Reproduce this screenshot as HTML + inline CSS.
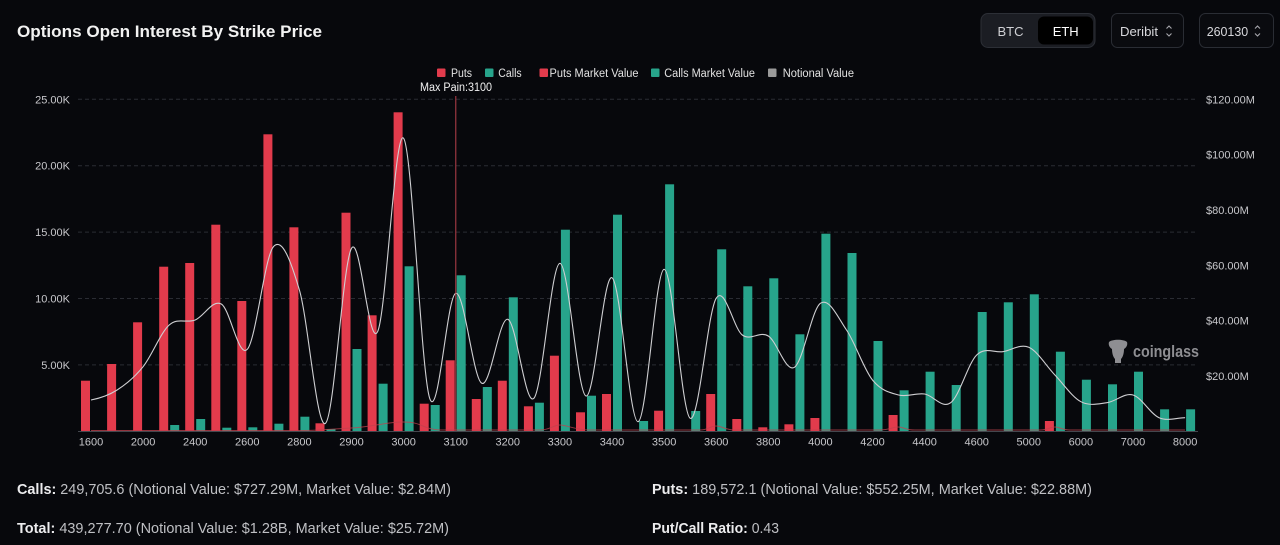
<!DOCTYPE html>
<html><head><meta charset="utf-8"><style>
html,body{margin:0;padding:0;background:#07080c;width:1280px;height:545px;overflow:hidden}
svg{display:block}
</style></head><body>
<svg width="1280" height="545" viewBox="0 0 1280 545" xmlns="http://www.w3.org/2000/svg" font-family="'Liberation Sans', sans-serif">
<rect width="1280" height="545" fill="#07080c"/>
<!-- Title -->
<text x="17" y="37" font-size="17" font-weight="bold" fill="#f2f2f2" textLength="305" lengthAdjust="spacingAndGlyphs">Options Open Interest By Strike Price</text>

<!-- Header controls -->
<rect x="981" y="13.5" width="114" height="34" rx="7" fill="#1b1d23" stroke="#2c2f36"/>
<rect x="1038" y="16.5" width="55" height="28" rx="6" fill="#000"/>
<text x="1010.5" y="36" font-size="13" fill="#cfd0d4" text-anchor="middle">BTC</text>
<text x="1065.7" y="36" font-size="13" fill="#ffffff" text-anchor="middle">ETH</text>
<rect x="1111.5" y="13.5" width="72" height="34" rx="6" fill="#0a0b0f" stroke="#2a2d34"/>
<text x="1120" y="36" font-size="13" fill="#d8d8dc" textLength="38" lengthAdjust="spacingAndGlyphs">Deribit</text>
<polyline points="1166.5,28.5 1169,26 1171.5,28.5" fill="none" stroke="#a8a8ae" stroke-width="1.1"/>
<polyline points="1166.5,33.5 1169,36 1171.5,33.5" fill="none" stroke="#a8a8ae" stroke-width="1.1"/>
<rect x="1199.5" y="13.5" width="74" height="34" rx="6" fill="#0a0b0f" stroke="#2a2d34"/>
<text x="1206.7" y="36" font-size="13" fill="#d8d8dc" textLength="41.5" lengthAdjust="spacingAndGlyphs">260130</text>
<polyline points="1255,28.5 1257.5,26 1260,28.5" fill="none" stroke="#a8a8ae" stroke-width="1.1"/>
<polyline points="1255,33.5 1257.5,36 1260,33.5" fill="none" stroke="#a8a8ae" stroke-width="1.1"/>

<!-- Legend -->
<g font-size="11.5" fill="#e2e2e2">
<rect x="437" y="68.5" width="8.5" height="8.5" rx="1" fill="#e23b4c"/>
<text x="451" y="77" textLength="21" lengthAdjust="spacingAndGlyphs">Puts</text>
<rect x="485" y="68.5" width="8.5" height="8.5" rx="1" fill="#27a48b"/>
<text x="498.3" y="77" textLength="23.4" lengthAdjust="spacingAndGlyphs">Calls</text>
<rect x="539.5" y="68.5" width="8.5" height="8.5" rx="1" fill="#e23b4c"/>
<text x="549.5" y="77" textLength="89" lengthAdjust="spacingAndGlyphs">Puts Market Value</text>
<rect x="651" y="68.5" width="8.5" height="8.5" rx="1" fill="#27a48b"/>
<text x="664.3" y="77" textLength="90.7" lengthAdjust="spacingAndGlyphs">Calls Market Value</text>
<rect x="768" y="68.5" width="8.5" height="8.5" rx="1" fill="#9a9a9a"/>
<text x="782.7" y="77" textLength="71.3" lengthAdjust="spacingAndGlyphs">Notional Value</text>
</g>
<text x="420" y="91" font-size="11.5" fill="#f0f0f0" textLength="72" lengthAdjust="spacingAndGlyphs">Max Pain:3100</text>

<!-- Gridlines -->
<g stroke="#2a2c33" stroke-width="1" stroke-dasharray="4,3">
<line x1="78" y1="99.3" x2="1197" y2="99.3"/>
<line x1="78" y1="165.7" x2="1197" y2="165.7"/>
<line x1="78" y1="232.1" x2="1197" y2="232.1"/>
<line x1="78" y1="298.5" x2="1197" y2="298.5"/>
<line x1="78" y1="364.9" x2="1197" y2="364.9"/>
</g>

<!-- Left axis labels -->
<g font-size="11" fill="#c8c8cc" text-anchor="end">
<text x="70" y="103.3">25.00K</text>
<text x="70" y="169.7">20.00K</text>
<text x="70" y="236.1">15.00K</text>
<text x="70" y="302.5">10.00K</text>
<text x="70" y="368.9">5.00K</text>
</g>
<!-- Right axis labels -->
<g font-size="11" fill="#c8c8cc">
<text x="1206" y="103.3">$120.00M</text>
<text x="1206" y="158.6">$100.00M</text>
<text x="1206" y="214">$80.00M</text>
<text x="1206" y="269.3">$60.00M</text>
<text x="1206" y="324.6">$40.00M</text>
<text x="1206" y="380">$20.00M</text>
</g>

<!-- Watermark -->
<g fill="#8e8e92">
<path d="M1109,342 C1112,339 1124,339 1127,342 C1128,345 1126,348 1124,349 C1124,353 1123,357 1121,359 L1121,363 L1115,363 L1115,359 C1113,357 1112,353 1112,349 C1110,348 1108,345 1109,342 Z"/>
<text x="1133" y="357" font-size="17" font-weight="bold" textLength="66" lengthAdjust="spacingAndGlyphs">coinglass</text>
</g>

<!-- Red bars (Puts) -->
<g fill="#e23b4c">
<rect x="81.0" y="380.7" width="9" height="50.3"/>
<rect x="107.1" y="364" width="9" height="67"/>
<rect x="133.1" y="322.3" width="9" height="108.7"/>
<rect x="159.2" y="266.7" width="9" height="164.3"/>
<rect x="185.2" y="263" width="9" height="168"/>
<rect x="211.3" y="224.7" width="9" height="206.3"/>
<rect x="237.3" y="301" width="9" height="130"/>
<rect x="263.4" y="134.3" width="9" height="296.7"/>
<rect x="289.4" y="227.3" width="9" height="203.7"/>
<rect x="315.5" y="423.3" width="9" height="7.7"/>
<rect x="341.5" y="212.7" width="9" height="218.3"/>
<rect x="367.6" y="315.3" width="9" height="115.7"/>
<rect x="393.6" y="112.3" width="9" height="318.7"/>
<rect x="419.7" y="403.7" width="9" height="27.3"/>
<rect x="445.7" y="360.3" width="9" height="70.7"/>
<rect x="471.8" y="399" width="9" height="32"/>
<rect x="497.8" y="380.7" width="9" height="50.3"/>
<rect x="523.9" y="406.3" width="9" height="24.7"/>
<rect x="549.9" y="355.7" width="9" height="75.3"/>
<rect x="576.0" y="412.3" width="9" height="18.7"/>
<rect x="602.0" y="394" width="9" height="37"/>
<rect x="654.1" y="410.7" width="9" height="20.3"/>
<rect x="706.2" y="394" width="9" height="37"/>
<rect x="732.3" y="419" width="9" height="12"/>
<rect x="758.3" y="427.3" width="9" height="3.7"/>
<rect x="784.4" y="424.3" width="9" height="6.7"/>
<rect x="810.4" y="418" width="9" height="13"/>
<rect x="888.6" y="415" width="9" height="16"/>
<rect x="1044.9" y="421" width="9" height="10"/>
</g>

<!-- Teal bars (Calls) -->
<g fill="#27a48b">
<rect x="170.2" y="425" width="9" height="6"/>
<rect x="196.2" y="419" width="9" height="12"/>
<rect x="222.3" y="427.7" width="9" height="3.3"/>
<rect x="248.3" y="427.3" width="9" height="3.7"/>
<rect x="274.4" y="423.7" width="9" height="7.3"/>
<rect x="300.4" y="416.7" width="9" height="14.3"/>
<rect x="326.5" y="429" width="9" height="2"/>
<rect x="352.5" y="349" width="9" height="82"/>
<rect x="378.6" y="383.7" width="9" height="47.3"/>
<rect x="404.6" y="266.3" width="9" height="164.7"/>
<rect x="430.7" y="405" width="9" height="26"/>
<rect x="456.7" y="275.3" width="9" height="155.7"/>
<rect x="482.8" y="387" width="9" height="44"/>
<rect x="508.8" y="297.3" width="9" height="133.7"/>
<rect x="534.9" y="402.7" width="9" height="28.3"/>
<rect x="560.9" y="229.7" width="9" height="201.3"/>
<rect x="587.0" y="395.7" width="9" height="35.3"/>
<rect x="613.0" y="214.7" width="9" height="216.3"/>
<rect x="639.1" y="421" width="9" height="10"/>
<rect x="665.1" y="184.3" width="9" height="246.7"/>
<rect x="691.2" y="411" width="9" height="20"/>
<rect x="717.2" y="249.3" width="9" height="181.7"/>
<rect x="743.3" y="286.3" width="9" height="144.7"/>
<rect x="769.3" y="278.3" width="9" height="152.7"/>
<rect x="795.4" y="334.3" width="9" height="96.7"/>
<rect x="821.4" y="233.7" width="9" height="197.3"/>
<rect x="847.5" y="253" width="9" height="178"/>
<rect x="873.5" y="341" width="9" height="90"/>
<rect x="899.6" y="390.3" width="9" height="40.7"/>
<rect x="925.6" y="371.7" width="9" height="59.3"/>
<rect x="951.7" y="385" width="9" height="46"/>
<rect x="977.7" y="312" width="9" height="119"/>
<rect x="1003.8" y="302.3" width="9" height="128.7"/>
<rect x="1029.8" y="294.3" width="9" height="136.7"/>
<rect x="1055.9" y="351.7" width="9" height="79.3"/>
<rect x="1081.9" y="379.7" width="9" height="51.3"/>
<rect x="1108.0" y="384.3" width="9" height="46.7"/>
<rect x="1134.0" y="371.7" width="9" height="59.3"/>
<rect x="1160.1" y="409.3" width="9" height="21.7"/>
<rect x="1186.1" y="409.3" width="9" height="21.7"/>
</g>

<!-- Axis baseline -->
<line x1="78" y1="431.5" x2="1198" y2="431.5" stroke="#44474e" stroke-width="1"/>

<!-- Puts market value line -->
<path d="M91,430.5 L300,430.5 C320,430.5 330,429 351.5,428 S385,422 403.6,422 S422,429 440,430 L540,430 C550,430 553,425 560,425 S575,430 590,430 L700,430 C708,430 710,426 716,426 S725,430 735,430 L880,430 C890,430 892,427 898,427 S905,430 915,430 L1040,430 C1048,430 1050,427 1055,427 S1062,430 1070,430 L1185,430" fill="none" stroke="#c0424d" stroke-width="1" opacity="0.75"/>

<!-- Notional value line -->
<path d="M91,400 C99.7,398.3 108.4,395.55 117.1,390 S134.4,377.53 143.1,366.7 S160.5,332.78 169.2,325 S186.5,323.5 195.2,320 S212.6,299.12 221.3,304 S238.6,358.85 247.3,349.3 S264.7,256.58 273.4,246.7 S290.7,260.57 299.4,290 S316.8,430.25 325.5,423.3 S342.8,263.57 351.5,248.3 S368.9,350.03 377.6,331.7 S394.9,127.2 403.6,138.3 S421.0,372.47 429.7,398.3 S447.0,295.8 455.7,293.3 S473.1,378.97 481.8,383.3 S499.1,316.8 507.8,319.3 S525.2,407.63 533.9,398.3 S551.2,263.68 559.9,263.3 S577.3,393.6 586,396 S603.3,273.42 612,277.7 S629.4,423.1 638.1,421.7 S655.4,269.87 664.1,269.3 S681.5,413.47 690.2,418.3 S707.5,312.18 716.2,298.3 S733.6,328.72 742.3,335 S759.6,330.62 768.3,336 S785.7,372.75 794.4,367.3 S811.7,309.52 820.4,303.3 S837.8,317.22 846.5,330 S863.8,369.17 872.5,380 S889.9,392.67 898.6,395 S915.9,392.72 924.6,394 S942,409.2 950.7,402.7 S968,363.5 976.7,355 S994.1,352.98 1002.8,351.7 S1020.1,343.42 1028.8,347.3 S1046.2,365.93 1054.9,375 S1072.2,397.08 1080.9,401.7 S1098.3,403.82 1107,402.7 S1124.3,392.5 1133,395 S1150.4,413.92 1159.1,417.7 S1176.4,417.7 1185.1,417.7" fill="none" stroke="#cfcfd2" stroke-width="1.1"/>

<!-- Max pain line -->
<line x1="455.8" y1="96" x2="455.8" y2="431" stroke="#b8404a" stroke-width="1"/>

<!-- X axis labels -->
<g font-size="11" fill="#c8c8cc" text-anchor="middle">
<text x="91.0" y="445.5">1600</text>
<text x="143.1" y="445.5">2000</text>
<text x="195.2" y="445.5">2400</text>
<text x="247.3" y="445.5">2600</text>
<text x="299.4" y="445.5">2800</text>
<text x="351.5" y="445.5">2900</text>
<text x="403.6" y="445.5">3000</text>
<text x="455.7" y="445.5">3100</text>
<text x="507.8" y="445.5">3200</text>
<text x="559.9" y="445.5">3300</text>
<text x="612.0" y="445.5">3400</text>
<text x="664.1" y="445.5">3500</text>
<text x="716.2" y="445.5">3600</text>
<text x="768.3" y="445.5">3800</text>
<text x="820.4" y="445.5">4000</text>
<text x="872.5" y="445.5">4200</text>
<text x="924.6" y="445.5">4400</text>
<text x="976.7" y="445.5">4600</text>
<text x="1028.8" y="445.5">5000</text>
<text x="1080.9" y="445.5">6000</text>
<text x="1133.0" y="445.5">7000</text>
<text x="1185.1" y="445.5">8000</text>
</g>

<!-- Bottom stats -->
<g font-size="14.5" fill="#bfc0c4">
<text x="17" y="494" textLength="434" lengthAdjust="spacingAndGlyphs"><tspan fill="#ececee" font-weight="bold">Calls:</tspan> 249,705.6 (Notional Value: $727.29M, Market Value: $2.84M)</text>
<text x="17" y="533" textLength="432" lengthAdjust="spacingAndGlyphs"><tspan fill="#ececee" font-weight="bold">Total:</tspan> 439,277.70 (Notional Value: $1.28B, Market Value: $25.72M)</text>
<text x="652" y="494" textLength="440" lengthAdjust="spacingAndGlyphs"><tspan fill="#ececee" font-weight="bold">Puts:</tspan> 189,572.1 (Notional Value: $552.25M, Market Value: $22.88M)</text>
<text x="652" y="533" textLength="127" lengthAdjust="spacingAndGlyphs"><tspan fill="#ececee" font-weight="bold">Put/Call Ratio:</tspan> 0.43</text>
</g>
</svg>
</body></html>
